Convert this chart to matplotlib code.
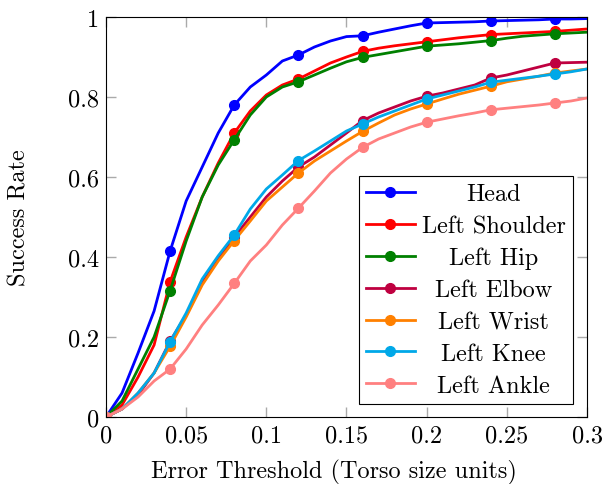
import matplotlib
matplotlib.use("Agg")
import matplotlib.pyplot as plt
import numpy as np

thresholds = [0.00, 0.01, 0.02, 0.03, 0.04, 0.05, 0.06, 0.07, 0.08, 0.09, 0.10,
              0.11, 0.12, 0.13, 0.14, 0.15, 0.16, 0.17, 0.18, 0.19, 0.20,
              0.21, 0.22, 0.23, 0.24, 0.25, 0.26, 0.27, 0.28, 0.29, 0.30]

head = [0, 0.06, 0.16, 0.265, 0.415, 0.54, 0.625, 0.71, 0.78, 0.825, 0.855,
        0.89, 0.905, 0.925, 0.94, 0.951, 0.953, 0.962, 0.97, 0.978, 0.985,
        0.986, 0.987, 0.988, 0.99, 0.991, 0.992, 0.993, 0.995, 0.995, 0.996]
left_shoulder = [0, 0.03, 0.10, 0.18, 0.338, 0.45, 0.55, 0.635, 0.71, 0.765, 0.805,
                 0.83, 0.845, 0.865, 0.885, 0.90, 0.914, 0.922, 0.928, 0.933, 0.938,
                 0.943, 0.948, 0.952, 0.956, 0.958, 0.96, 0.962, 0.964, 0.967, 0.97]
left_hip = [0, 0.04, 0.12, 0.20, 0.316, 0.44, 0.55, 0.63, 0.693, 0.755, 0.80,
            0.825, 0.838, 0.855, 0.872, 0.888, 0.899, 0.906, 0.913, 0.92, 0.927,
            0.93, 0.933, 0.937, 0.941, 0.947, 0.952, 0.955, 0.958, 0.96, 0.962]
left_elbow = [0, 0.02, 0.055, 0.11, 0.19, 0.255, 0.335, 0.395, 0.45, 0.50, 0.55,
              0.59, 0.625, 0.65, 0.68, 0.71, 0.741, 0.76, 0.775, 0.79, 0.802,
              0.81, 0.82, 0.83, 0.8475, 0.855, 0.865, 0.875, 0.885, 0.886, 0.887]
left_wrist = [0, 0.02, 0.06, 0.11, 0.177, 0.25, 0.33, 0.39, 0.441, 0.49, 0.54,
              0.575, 0.61, 0.64, 0.665, 0.69, 0.714, 0.735, 0.755, 0.77, 0.7825,
              0.795, 0.807, 0.817, 0.827, 0.838, 0.845, 0.852, 0.86, 0.865, 0.87]
left_knee = [0, 0.02, 0.06, 0.11, 0.188, 0.26, 0.345, 0.403, 0.455, 0.52, 0.57,
             0.605, 0.641, 0.665, 0.69, 0.715, 0.7325, 0.75, 0.765, 0.78, 0.795,
             0.805, 0.815, 0.825, 0.837, 0.842, 0.847, 0.852, 0.8575, 0.863, 0.87]
left_ankle = [0, 0.02, 0.05, 0.09, 0.12, 0.17, 0.23, 0.28, 0.334, 0.39, 0.43,
              0.48, 0.522, 0.565, 0.61, 0.645, 0.674, 0.695, 0.71, 0.725, 0.737,
              0.745, 0.753, 0.76, 0.768, 0.772, 0.776, 0.78, 0.785, 0.79, 0.7975]

series = [
    ("Head", head, "#0000FF"),
    ("Left Shoulder", left_shoulder, "#FF0000"),
    ("Left Hip", left_hip, "#008000"),
    ("Left Elbow", left_elbow, "#BF0040"),
    ("Left Wrist", left_wrist, "#FF8000"),
    ("Left Knee", left_knee, "#00A8E8"),
    ("Left Ankle", left_ankle, "#FF8080"),
]

plt.rcParams['font.family'] = ['cmr10', 'DejaVu Serif']
plt.rcParams['mathtext.fontset'] = 'cm'
plt.rcParams['axes.formatter.use_mathtext'] = True

FS = 17.5
fig = plt.figure(figsize=(6.13, 4.85), dpi=100)
ax = fig.add_axes([0.1729, 0.1381, 0.7847, 0.8248])

for name, vals, col in series:
    ax.plot(thresholds, vals, color=col, lw=2.0, marker='o', markersize=7,
            markevery=4, label=name)

ax.set_xlim(0, 0.3)
ax.set_ylim(0, 1)
xt = [0, 0.05, 0.1, 0.15, 0.2, 0.25, 0.3]
yt = [0, 0.2, 0.4, 0.6, 0.8, 1]
ax.set_xticks(xt)
ax.set_xticklabels(["0", "0.05", "0.1", "0.15", "0.2", "0.25", "0.3"])
ax.set_yticks(yt)
ax.set_yticklabels(["0", "0.2", "0.4", "0.6", "0.8", "1"])
ax.tick_params(direction='in', length=7, width=1, color='#aaaaaa',
               top=True, right=True, labelsize=FS)
ax.tick_params(axis='x', pad=5)
ax.tick_params(axis='y', pad=5)
for s in ax.spines.values():
    s.set_color('black')
    s.set_linewidth(0.8)

ax.set_xlabel("Error Threshold (Torso size units)", fontsize=FS)
ax.set_ylabel("Success Rate", fontsize=FS)
ax.xaxis.set_label_coords((334 - 106) / 481, (418 - 460) / 400)
ax.yaxis.set_label_coords((31 - 106) / 481, 0.5)

leg = ax.legend(loc='lower right', fontsize=FS, frameon=True, fancybox=False,
                edgecolor='black', framealpha=1, handlelength=2.0,
                handletextpad=0.3, borderpad=0.3, labelspacing=0.4,
                borderaxespad=0, bbox_to_anchor=((573 - 106) / 481, (418 - 405) / 400))
leg.get_frame().set_linewidth(0.8)

# centre legend labels in their column (as pgfplots does)
fig.canvas.draw()
r = fig.canvas.get_renderer()
texts = leg.get_texts()
widths = [t.get_window_extent(r).width for t in texts]
W = max(widths)
for t, w in zip(texts, widths):
    t.set_position(((W - w) / 2, 0))

fig.savefig("out.png", dpi=100)
